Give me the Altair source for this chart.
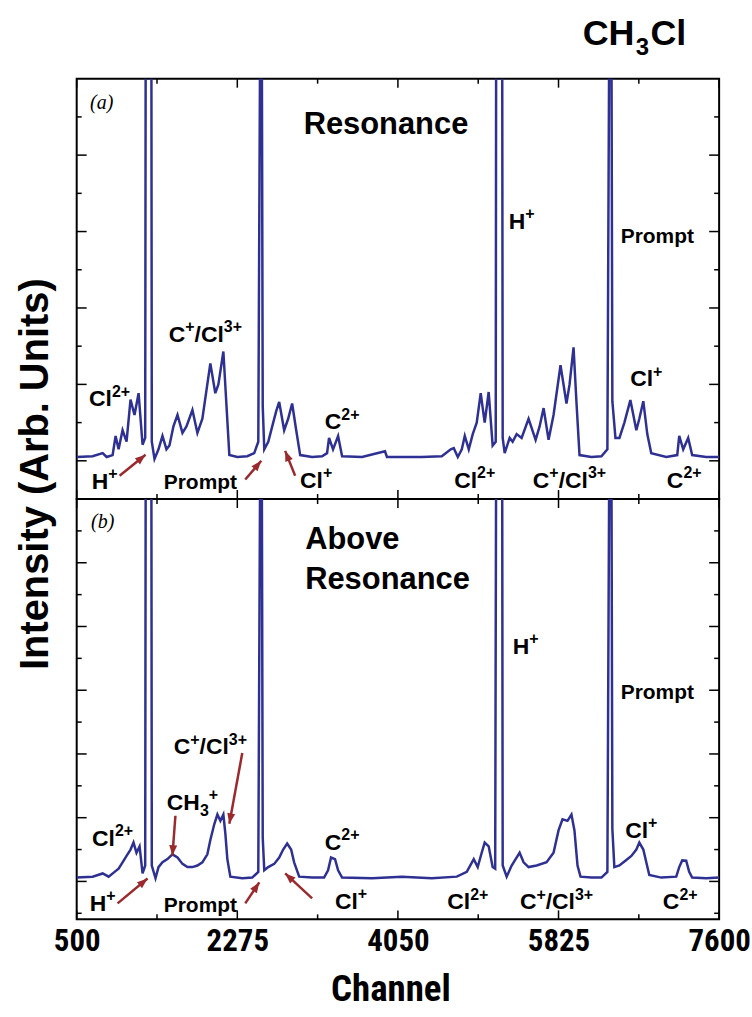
import math
import re
import altair as alt
import pandas as pd

# ---------------- data ----------------
# panel (a): Resonance
a_channel = [500, 676, 787, 831, 897, 930, 963, 1007, 1051, 1095,
             1139, 1184, 1228, 1257, 1263, 1325, 1330, 1360, 1404, 1448,
             1492, 1525, 1569, 1614, 1669, 1713, 1779, 1834, 1889, 1977,
             2032, 2066, 2121, 2154, 2187, 2275, 2385, 2462, 2507, 2529,
             2545, 2556, 2573, 2617, 2661, 2705, 2738, 2793, 2837, 2881,
             2926, 2970, 3102, 3212, 3267, 3289, 3333, 3389, 3433, 3653,
             3907, 3929, 4315, 4535, 4634, 4667, 4712, 4756, 4789, 4833,
             4877, 4921, 4965, 5009, 5053, 5097, 5131, 5136, 5202, 5208,
             5230, 5285, 5318, 5362, 5417, 5494, 5572, 5616, 5660, 5715,
             5770, 5847, 5913, 5947, 5991, 6024, 6057, 6189, 6299, 6365,
             6387, 6409, 6420, 6454, 6498, 6553, 6619, 6685, 6718, 6762,
             6806, 6850, 7016, 7137, 7159, 7203, 7258, 7302, 7457, 7600]
a_intensity = [0.1, 0.12, 0.2, 0.1, 0.15, 0.65, 0.3, 0.8, 0.5, 1.6,
               1.2, 1.77, 0.42, 0.6, 12, 12, 0.5, 0.05, 0.3, 0.65,
               0.3, 0.4, 0.9, 1.2, 0.73, 0.9, 1.33, 0.73, 1.1, 2.55,
               1.77, 2.0, 2.86, 1.5, 0.15, 0.1, 0.12, 0.2, 0.5, 12,
               12, 1.43, 0.3, 0.5, 0.9, 1.3, 1.54, 0.8, 1.1, 1.5,
               0.8, 0.15, 0.1, 0.12, 0.2, 0.6, 0.3, 0.65, 0.12, 0.1,
               0.25, 0.1, 0.1, 0.12, 0.3, 0.33, 0.1, 0.3, 0.65, 0.3,
               0.7, 1.0, 1.77, 1.0, 1.8, 0.4, 0.5, 12, 12, 0.6,
               0.2, 0.6, 0.5, 0.7, 0.6, 1.1, 0.55, 0.9, 1.38, 0.55,
               1.2, 2.5, 1.5, 2.0, 2.97, 1.5, 0.15, 0.1, 0.12, 0.3,
               12, 12, 1.56, 0.6, 0.6, 1.0, 1.59, 0.8, 1.1, 1.56,
               0.7, 0.2, 0.1, 0.15, 0.65, 0.3, 0.6, 0.15, 0.1, 0.1]

# panel (b): Above Resonance
b_channel = [500, 676, 787, 853, 919, 963, 1007, 1051, 1095, 1128,
             1161, 1195, 1228, 1257, 1263, 1325, 1330, 1371, 1404, 1448,
             1503, 1558, 1614, 1669, 1724, 1779, 1834, 1889, 1944, 1977,
             2021, 2055, 2088, 2121, 2143, 2165, 2198, 2330, 2440, 2507,
             2529, 2545, 2556, 2573, 2617, 2683, 2738, 2782, 2826, 2870,
             2903, 2959, 3102, 3234, 3278, 3311, 3355, 3389, 3433, 3763,
             4094, 4425, 4701, 4811, 4888, 4932, 4976, 5009, 5053, 5097,
             5125, 5136, 5202, 5208, 5252, 5307, 5351, 5395, 5439, 5494,
             5583, 5693, 5770, 5825, 5869, 5924, 5968, 6001, 6035, 6068,
             6189, 6299, 6365, 6387, 6409, 6420, 6442, 6498, 6564, 6630,
             6685, 6718, 6762, 6795, 6828, 6961, 7126, 7159, 7192, 7236,
             7269, 7302, 7457, 7600]
b_intensity = [0.12, 0.15, 0.25, 0.15, 0.3, 0.4, 0.6, 0.8, 1.0, 1.22,
               0.9, 1.1, 0.25, 0.5, 14, 14, 0.5, 0.1, 0.45, 0.6,
               0.7, 0.85, 0.75, 0.55, 0.45, 0.45, 0.5, 0.6, 0.85, 1.3,
               1.8, 2.1, 1.9, 2.1, 1.5, 0.7, 0.15, 0.1, 0.12, 0.3,
               14, 14, 1.37, 0.35, 0.45, 0.55, 0.75, 1.0, 1.19, 1.0,
               0.6, 0.15, 0.12, 0.12, 0.35, 0.75, 0.7, 0.35, 0.12, 0.1,
               0.15, 0.1, 0.15, 0.3, 0.7, 0.45, 0.9, 1.22, 1.1, 0.45,
               0.4, 14, 14, 0.5, 0.15, 0.5, 0.7, 0.9, 0.6, 0.45,
               0.5, 0.6, 0.9, 1.6, 1.95, 1.9, 2.1, 1.6, 0.5, 0.15,
               0.12, 0.12, 0.3, 14, 14, 1.65, 0.45, 0.5, 0.65, 0.8,
               1.0, 1.22, 1.0, 0.6, 0.2, 0.12, 0.15, 0.45, 0.66, 0.65,
               0.3, 0.12, 0.1, 0.12]

# annotations (^{..} superscript, _{..} subscript)
a_label_text = ["Cl^{2+}", "C^{+}/Cl^{3+}", "C^{2+}", "H^{+}", "Prompt", "Cl^{+}",
                "H^{+}", "Prompt", "Cl^{+}", "Cl^{2+}", "C^{+}/Cl^{3+}", "C^{2+}"]
a_label_channel = [864, 1922, 3433, 5417, 6917, 6795, 809, 1867, 3146, 4899, 5946, 7214]
a_label_value = [1.64, 3.33, 1.04, 6.28, 5.89, 2.16, -0.52, -0.55, -0.5, -0.5, -0.5, -0.5]

b_label_text = ["Cl^{2+}", "CH_{3}^{+}", "C^{+}/Cl^{3+}", "C^{2+}", "H^{+}", "Prompt", "Cl^{+}",
                "H^{+}", "Prompt", "Cl^{+}", "Cl^{2+}", "C^{+}/Cl^{3+}", "C^{2+}"]
b_label_channel = [897, 1779, 1977, 3433, 5461, 6917, 6740, 787, 1867, 3532, 4822, 5803, 7170]
b_label_value = [1.375, 2.5, 4.25, 1.25, 7.4, 5.97, 1.62, -0.66, -0.72, -0.6, -0.62, -0.62, -0.62]

a_arrow_from_channel = [974, 2363, 2914]
a_arrow_from_value = [-0.39, -0.49, -0.39]
a_arrow_to_channel = [1261, 2540, 2804]
a_arrow_to_value = [0.16, 0.0, 0.26]

b_arrow_from_channel = [952, 2363, 3102, 1591, 2330]
b_arrow_from_value = [-0.69, -0.69, -0.53, 2.06, 4.03]
b_arrow_to_channel = [1283, 2518, 2804, 1558, 2187]
b_arrow_to_value = [0.09, -0.03, 0.25, 0.81, 1.81]

x_major_ticks = [500, 2275, 4050, 5825, 7600]
x_minor_ticks = [1387.5, 3162.5, 4937.5, 6712.5]
a_y_major = [0, 2, 4, 6, 8]
a_y_minor = [1, 3, 5, 7, 9]
b_y_major = [0, 2, 4, 6, 8, 10]
b_y_minor = [-1, 1, 3, 5, 7, 9, 11]

# ---------------- styling ----------------
W, H = 645, 422
X_DOMAIN = [500, 7600]
A_DOMAIN = [-1.0, 10.0]
B_DOMAIN = [-1.19, 12.0]
BLUE = "#2E3192"
RED = "#9A2A2D"
SANS = "Liberation Sans, Arial, Helvetica, sans-serif"
NARROW = "Roboto Condensed, Noto Sans Condensed, Liberation Sans Narrow, Liberation Sans"
ARROW_SHAPE = "M0,0L-0.5,1.3L0.5,1.3Z"
ION_SIZE, PROMPT_SIZE = 23, 21
# Arial/Liberation Sans Bold advance widths (per 1000 em) for text layout
GLYPH_W = {"C": 722, "l": 278, "H": 722, "P": 667, "r": 389, "o": 611, "m": 889,
           "p": 611, "t": 333, "/": 278, "+": 584, "2": 556, "3": 556}


def label_pieces(texts, chs, vals, ydom):
    """Split mini-markup labels into base / sup / sub runs placed side by side."""
    px_per_ch = W / (X_DOMAIN[1] - X_DOMAIN[0])
    px_per_v = H / (ydom[1] - ydom[0])
    rows = []
    for text, c, v in zip(texts, chs, vals):
        base = PROMPT_SIZE if text == "Prompt" else ION_SIZE
        small = round(base * 0.68)
        runs = []
        for m in re.finditer(r"\^\{([^}]*)\}|_\{([^}]*)\}|([^\^_]+)", text):
            if m.group(1) is not None:
                runs.append((m.group(1), "sup", small))
            elif m.group(2) is not None:
                runs.append((m.group(2), "sub", small))
            else:
                runs.append((m.group(3), "base", base))
        widths = [sum(GLYPH_W.get(ch, 600) for ch in t) * s / 1000 for t, _, s in runs]
        x = -sum(widths) / 2
        baseline_px = 0.716 * base / 2  # baseline below the cap-centre
        for (t, role, s), w in zip(runs, widths):
            shift = {"base": 0, "sup": -0.42 * base, "sub": 0.25 * base}[role]
            rows.append({"t": t, "role": role,
                         "ch": c + x / px_per_ch,
                         "v": v - (baseline_px + shift) / px_per_v})
            x += w
    return pd.DataFrame(rows)


def build_panel(ch, val, ydom, ymaj, ymin, ltext, lch, lval,
                afc, afv, atc, atv, show_x_axis, extra):
    xs = alt.Scale(domain=X_DOMAIN, nice=False, zero=False)
    ys = alt.Scale(domain=ydom, nice=False, zero=False)
    if show_x_axis:
        xaxis = alt.Axis(values=x_major_ticks, ticks=False, domain=False, grid=False,
                         labelFont=NARROW, labelFontSize=31, labelFontWeight="bold",
                         labelColor="black", labelPadding=7, labelFlush=False,
                         labelOverlap=False, format="d",
                         title="Channel", titleFont=NARROW, titleFontSize=37,
                         titleFontWeight="bold", titleColor="black", titlePadding=15,
                         titleX=315, titleAlign="center")
    else:
        xaxis = None

    def X(field):
        return alt.X(field, scale=xs, axis=xaxis)

    def Y(field):
        return alt.Y(field, scale=ys, axis=None)

    spec = pd.DataFrame({"ch": ch, "v": val})
    line = alt.Chart(spec).mark_line(color=BLUE, strokeWidth=2.5, clip=True).encode(
        x=X("ch:Q"), y=Y("v:Q"))

    def ytick(values, length, right):
        d = pd.DataFrame({"v": values})
        if right:
            xx = dict(x=alt.value(W - length), x2=alt.value(W))
        else:
            xx = dict(x=alt.value(0), x2=alt.value(length))
        return alt.Chart(d).mark_rule(color="black", strokeWidth=1.5).encode(
            y=Y("v:Q"), **xx)

    def xtick(values, length, bottom):
        d = pd.DataFrame({"ch": values})
        if bottom:
            yy = dict(y=alt.value(H - length), y2=alt.value(H))
        else:
            yy = dict(y=alt.value(0), y2=alt.value(length))
        return alt.Chart(d).mark_rule(color="black", strokeWidth=1.5).encode(
            x=X("ch:Q"), **yy)

    ticks = [ytick(ymaj, 10, False), ytick(ymin, 5, False),
             ytick(ymaj, 10, True), ytick(ymin, 5, True),
             xtick(x_major_ticks, 9, False), xtick(x_minor_ticks, 5, False),
             xtick(x_major_ticks, 9, True), xtick(x_minor_ticks, 5, True)]

    pieces = label_pieces(ltext, lch, lval, ydom)
    text_layers = []
    for role in ["base", "sup", "sub"]:
        sub = pieces[pieces["role"] == role]
        if len(sub) == 0:
            continue
        if role == "base":
            groups = [(ION_SIZE, sub[sub["t"] != "Prompt"]), (PROMPT_SIZE, sub[sub["t"] == "Prompt"])]
        else:
            groups = [(round(ION_SIZE * 0.68), sub)]
        for size, part in groups:
            if len(part):
                text_layers.append(alt.Chart(part).mark_text(
                    font=SANS, fontWeight="bold", fontSize=size, color="black",
                    align="left", baseline="alphabetic").encode(
                    x=X("ch:Q"), y=Y("v:Q"), text="t:N"))

    # arrow direction in screen pixels
    px_per_ch = W / (X_DOMAIN[1] - X_DOMAIN[0])
    px_per_v = H / (ydom[1] - ydom[0])
    angles = []
    for x1, y1, x2, y2 in zip(afc, afv, atc, atv):
        dx = (x2 - x1) * px_per_ch
        dy = -(y2 - y1) * px_per_v
        angles.append(math.degrees(math.atan2(dx, -dy)) % 360)
    adf = pd.DataFrame({"x1": afc, "y1": afv, "x2": atc, "y2": atv, "ang": angles})
    shafts = alt.Chart(adf).mark_rule(color=RED, strokeWidth=2.5).encode(
        x=X("x1:Q"), y=Y("y1:Q"), x2="x2:Q", y2="y2:Q")
    heads = alt.Chart(adf).mark_point(shape=ARROW_SHAPE, filled=True, color=RED,
                                      opacity=1, size=260, strokeWidth=0).encode(
        x=X("x2:Q"), y=Y("y2:Q"), angle=alt.Angle("ang:Q", scale=None))

    layers = [line] + ticks + [shafts, heads] + text_layers + extra(X, Y)
    return alt.layer(*layers).properties(width=W, height=H)


def extra_a(X, Y):
    one = pd.DataFrame({"t": ["(a)"], "ch": [776], "v": [9.37]})
    tag = alt.Chart(one).mark_text(font="Liberation Serif", fontStyle="italic",
                                   fontSize=20, color="black").encode(
        x=X("ch:Q"), y=Y("v:Q"), text="t:N")
    head = pd.DataFrame({"t": ["Resonance"], "ch": [3918], "v": [8.8]})
    res = alt.Chart(head).mark_text(font=SANS, fontWeight="bold", fontSize=31,
                                    color="black").encode(
        x=X("ch:Q"), y=Y("v:Q"), text="t:N")
    ytitle = alt.Chart(pd.DataFrame({"t": ["Intensity (Arb. Units)"]})).mark_text(
        font=SANS, fontWeight="bold", fontSize=40, angle=270, color="black",
        align="center", baseline="middle").encode(
        text="t:N", x=alt.value(-41), y=alt.value(397))
    t1 = alt.Chart(pd.DataFrame({"t": ["CH"]})).mark_text(
        font=SANS, fontWeight="bold", fontSize=36, align="right", baseline="middle",
        color="black").encode(text="t:N", x=alt.value(560), y=alt.value(-45))
    t2 = alt.Chart(pd.DataFrame({"t": ["3"]})).mark_text(
        font=SANS, fontWeight="bold", fontSize=24, align="center", baseline="middle",
        color="black").encode(text="t:N", x=alt.value(568), y=alt.value(-31))
    t3 = alt.Chart(pd.DataFrame({"t": ["Cl"]})).mark_text(
        font=SANS, fontWeight="bold", fontSize=36, align="left", baseline="middle",
        color="black").encode(text="t:N", x=alt.value(576), y=alt.value(-45))
    return [tag, res, ytitle, t1, t2, t3]


def extra_b(X, Y):
    one = pd.DataFrame({"t": ["(b)"], "ch": [787], "v": [11.28]})
    tag = alt.Chart(one).mark_text(font="Liberation Serif", fontStyle="italic",
                                   fontSize=20, color="black").encode(
        x=X("ch:Q"), y=Y("v:Q"), text="t:N")
    head = pd.DataFrame({"t": ["Above", "Resonance"], "ch": [3025, 3025], "v": [10.72, 9.47]})
    res = alt.Chart(head).mark_text(font=SANS, fontWeight="bold", fontSize=31,
                                    align="left", color="black").encode(
        x=X("ch:Q"), y=Y("v:Q"), text="t:N")
    return [tag, res]


top = build_panel(a_channel, a_intensity, A_DOMAIN, a_y_major, a_y_minor,
                  a_label_text, a_label_channel, a_label_value,
                  a_arrow_from_channel, a_arrow_from_value,
                  a_arrow_to_channel, a_arrow_to_value, False, extra_a)
bottom = build_panel(b_channel, b_intensity, B_DOMAIN, b_y_major, b_y_minor,
                     b_label_text, b_label_channel, b_label_value,
                     b_arrow_from_channel, b_arrow_from_value,
                     b_arrow_to_channel, b_arrow_to_value, True, extra_b)

chart = alt.vconcat(top, bottom, spacing=0, bounds="flush").properties(
    padding={"left": 14, "top": 13, "right": 0, "bottom": 0},
    background="white",
).configure_view(stroke="black", strokeWidth=2)

chart.save("out.html", embed_options={"renderer": "svg", "actions": False})
